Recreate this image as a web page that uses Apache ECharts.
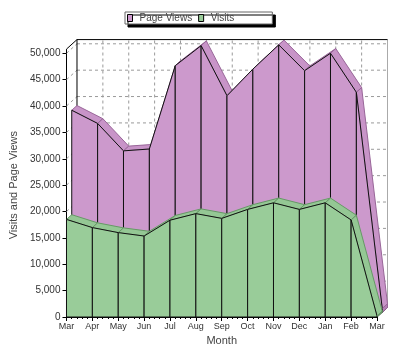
<!DOCTYPE html>
<html><head><meta charset="utf-8">
<script src="https://cdn.jsdelivr.net/npm/echarts@6/dist/echarts.min.js"></script>
<style>html,body{margin:0;padding:0;background:#fff}#c{width:400px;height:356px}</style>
</head><body><div id="c"></div>
<script>
const months = ['Mar','Apr','May','Jun','Jul','Aug','Sep','Oct','Nov','Dec','Jan','Feb','Mar'];
const pageViews = [38300, 35800, 30600, 30950, 46750, 50550, 41050, 46100, 50700, 45800, 49100, 41700, 700];
const visits = [18500, 16950, 16000, 15350, 18350, 19600, 18700, 20400, 21650, 20400, 21650, 18400, 200];
const yTicks = [0, 5000, 10000, 15000, 20000, 25000, 30000, 35000, 40000, 45000, 50000];
const wallTop = 50800;

const DX = 10.5, DY = -9.5;
const FONT = '"Liberation Sans", Arial, sans-serif';
const off = (p, z) => [p[0] + DX * z, p[1] + DY * z];

function areaSeries(name, values, z0, fill, topFill, sideFill, edge, zz) {
  return {
    type: 'custom', name: name, coordinateSystem: 'cartesian2d', z: zz,
    data: values.map((v, i) => [i, v]),
    itemStyle: { color: fill },
    renderItem: function (params, api) {
      const i = params.dataIndex;
      const z1 = z0 + 0.5;
      const ft = api.coord([i, api.value(1)]);
      const fb = api.coord([i, 0]);
      const ch = [];
      if (i < values.length - 1) {
        const nt = api.coord([i + 1, values[i + 1]]);
        const nb = api.coord([i + 1, 0]);
        ch.push({ type: 'polygon', shape: { points: [off(ft, z0), off(nt, z0), off(nt, z1), off(ft, z1)] },
          style: { fill: topFill, stroke: edge, lineWidth: 1 } });
        ch.push({ type: 'polygon', shape: { points: [off(fb, z0), off(ft, z0), off(nt, z0), off(nb, z0)] },
          style: { fill: fill, stroke: '#111', lineWidth: 1 } });
      } else {
        ch.push({ type: 'polygon', shape: { points: [off(fb, z0), off(ft, z0), off(ft, z1), off(fb, z1)] },
          style: { fill: sideFill, stroke: edge, lineWidth: 1 } });
        ch.push({ type: 'polyline', shape: { points: [off(fb, z0), off(ft, z0)] }, style: { stroke: '#111', lineWidth: 1 } });
      }
      return { type: 'group', children: ch };
    }
  };
}

const last = months.length - 1;

const wallH = {
  type: 'custom', name: 'wallH', coordinateSystem: 'cartesian2d', z: 1, silent: true,
  data: yTicks.map(v => [0, v]),
  renderItem: function (params, api) {
    const v = api.value(1);
    const a = api.coord([0, v]), b = api.coord([last, v]);
    const ch = [];
    if (v > 0) {
      ch.push({ type: 'line', shape: { x1: off(a,1)[0], y1: off(a,1)[1], x2: off(b,1)[0], y2: off(b,1)[1] },
        style: { stroke: '#9a9a9a', lineWidth: 1, lineDash: [3, 3] } });
      ch.push({ type: 'line', shape: { x1: a[0], y1: a[1], x2: off(a,1)[0], y2: off(a,1)[1] },
        style: { stroke: '#9a9a9a', lineWidth: 1, lineDash: [3, 3] } });
    }
    return { type: 'group', children: ch };
  }
};

const wallV = {
  type: 'custom', name: 'wallV', coordinateSystem: 'cartesian2d', z: 1, silent: true,
  data: months.map((m, i) => [i, 0]),
  renderItem: function (params, api) {
    const i = api.value(0);
    const a = off(api.coord([i, 0]), 1), b = off(api.coord([i, wallTop]), 1);
    if (i === 0) return { type: 'group', children: [] };
    return { type: 'line', shape: { x1: a[0], y1: a[1], x2: b[0], y2: b[1] },
      style: { stroke: i === last ? '#aaaaaa' : '#9a9a9a', lineWidth: 1, lineDash: i === last ? null : [3, 3] } };
  }
};

const frame = {
  type: 'custom', name: 'frame', coordinateSystem: 'cartesian2d', z: 1, silent: true,
  data: [[0, wallTop]],
  renderItem: function (params, api) {
    const t0 = api.coord([0, wallTop]), t1 = api.coord([last, wallTop]);
    const b0 = api.coord([0, 0]), b1 = api.coord([last, 0]);
    const a50 = api.coord([0, 50000]);
    const L = (p, q, c) => ({ type: 'line', shape: { x1: p[0], y1: p[1], x2: q[0], y2: q[1] }, style: { stroke: c, lineWidth: 1 } });
    return { type: 'group', children: [
      L(off(t0,1), off(t1,1), '#000'),
      L(off(b0,1), off(t0,1), '#000'),
      L(t0, off(t0,1), '#000'),
      L(a50, t0, '#000'),
      L(b1, off(b1,1), '#000'),
      L(b0, off(b0,1), '#000')
    ] };
  }
};

const chart = echarts.init(document.getElementById('c'), null, { renderer: 'canvas' });
chart.setOption({
  animation: false,
  backgroundColor: '#fff',
  textStyle: { fontFamily: FONT },
  legend: {
    data: [
      { name: 'Page Views', itemStyle: { color: '#CC99CC', borderColor: '#000', borderWidth: 1 } },
      { name: 'Visits', itemStyle: { color: '#99CC99', borderColor: '#000', borderWidth: 1 } }
    ],
    left: 125, top: 12,
    icon: 'rect', itemWidth: 5, itemHeight: 7, itemGap: 6,
    padding: [1, 38, 1, 2],
    backgroundColor: '#fff', borderColor: '#666', borderWidth: 1,
    shadowColor: '#000', shadowBlur: 0, shadowOffsetX: 3, shadowOffsetY: 3,
    textStyle: { fontSize: 10, color: '#444', fontFamily: FONT, padding: [0, 0, 0, 2] },
    selectedMode: false
  },
  grid: { left: 62, right: 23, top: 53.3, bottom: 39 },
  xAxis: {
    type: 'value', min: 0, max: last, interval: 1,
    name: 'Month', nameLocation: 'middle', nameGap: 16,
    nameTextStyle: { fontSize: 11, color: '#444', fontFamily: FONT },
    axisLine: { show: true, lineStyle: { color: '#000', width: 1 } },
    axisTick: { show: true, length: 4, lineStyle: { color: '#000' } },
    minorTick: { show: true, splitNumber: 5, length: 2, lineStyle: { color: '#000' } },
    splitLine: { show: false },
    axisLabel: { formatter: v => months[v], fontSize: 9, color: '#333', margin: 5, fontFamily: FONT }
  },
  yAxis: {
    type: 'value', min: 0, max: 50000, interval: 5000,
    name: 'Visits and Page Views', nameLocation: 'middle', nameGap: 37,
    nameTextStyle: { fontSize: 11, color: '#444', fontFamily: FONT },
    axisLine: { show: true, lineStyle: { color: '#000', width: 1 } },
    axisTick: { show: true, length: 4, lineStyle: { color: '#000' } },
    splitLine: { show: false },
    axisLabel: { formatter: v => v.toLocaleString('en-US'), fontSize: 10, color: '#333', margin: 6, fontFamily: FONT }
  },
  series: [
    wallH, wallV, frame,
    areaSeries('Page Views', pageViews, 0.5, '#CC99CC', '#C894C8', '#B47FB4', '#996699', 3),
    areaSeries('Visits', visits, 0, '#99CC99', '#94C794', '#80B380', '#669966', 4)
  ]
});
</script></body></html>
